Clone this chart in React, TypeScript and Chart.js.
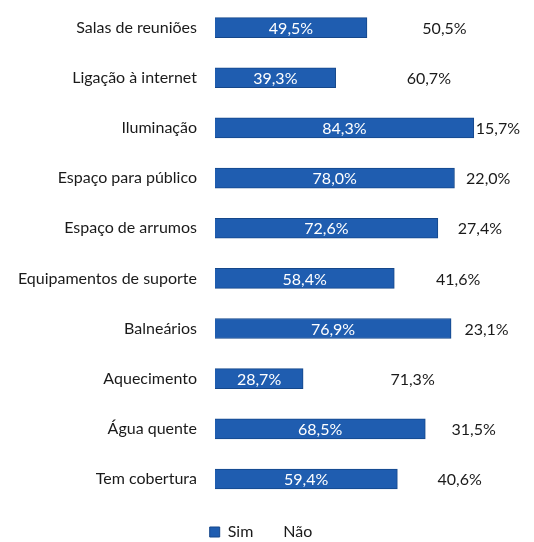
import React, { useEffect, useRef } from "react";
import { Chart, registerables } from "chart.js";

Chart.register(...registerables);

const categories = [
  "Salas de reuniões",
  "Ligação à internet",
  "Iluminação",
  "Espaço para público",
  "Espaço de arrumos",
  "Equipamentos de suporte",
  "Balneários",
  "Aquecimento",
  "Água quente",
  "Tem cobertura",
];
const simValues = [49.5, 39.3, 84.3, 78.0, 72.6, 58.4, 76.9, 28.7, 68.5, 59.4];
const naoValues = [50.5, 60.7, 15.7, 22.0, 27.4, 41.6, 23.1, 71.3, 31.5, 40.6];
const seriesNames = ["Sim", "Não"];

const FONT = "Lato, 'Open Sans', sans-serif";

const fmt = (v: number) => v.toFixed(1).replace(".", ",") + "%";

const labelPlugin = {
  id: "barLabels",
  afterDatasetsDraw(chart: any) {
    const ctx = chart.ctx;
    ctx.save();
    ctx.font = `16px ${FONT}`;
    ctx.textAlign = "center";
    ctx.textBaseline = "middle";
    chart.data.datasets.forEach((ds: any, i: number) => {
      const meta = chart.getDatasetMeta(i);
      ctx.fillStyle = i === 0 ? "#ffffff" : "#1a1a1a";
      meta.data.forEach((bar: any, j: number) => {
        const p = bar.getProps(["x", "y", "base"], true);
        ctx.fillText(fmt(ds.data[j]), (p.x + p.base) / 2, p.y + 1);
      });
    });
    ctx.restore();
  },
};

export default function App() {
  const ref = useRef<HTMLCanvasElement>(null);
  useEffect(() => {
    if (!ref.current) return;
    const chart = new Chart(ref.current, {
      type: "bar",
      data: {
        labels: categories,
        datasets: [
          {
            label: seriesNames[0],
            data: simValues,
            backgroundColor: "#1F5DB0",
            borderColor: "#15478A",
            borderWidth: 1,
            barThickness: 20,
            clip: false as any,
          },
          {
            label: seriesNames[1],
            data: naoValues,
            backgroundColor: "rgba(255,255,255,0)",
            borderWidth: 0,
            barThickness: 20,
            clip: false as any,
          },
        ],
      },
      options: {
        indexAxis: "y",
        responsive: false,
        animation: false,
        layout: { padding: { left: 0, right: 12, top: 21, bottom: -8 } },
        scales: {
          x: { stacked: true, min: 0, max: 100, display: false },
          y: {
            stacked: true,
            offset: false,
            grid: { display: false, drawTicks: false },
            border: { display: false },
            ticks: {
              padding: 18,
              color: "#1a1a1a",
              font: { family: FONT, size: 16 },
            },
            afterFit: (scale: any) => {
              scale.width = 215;
            },
          },
        },
        plugins: {
          tooltip: { enabled: false },
          legend: {
            position: "bottom",
            title: {
              display: true,
              text: "",
              font: { size: 1, lineHeight: 1 },
              padding: { top: 32, bottom: 0 },
            },
            labels: {
              boxWidth: 10,
              boxHeight: 10,
              padding: 12,
              color: "#1a1a1a",
              font: { family: FONT, size: 16 },
            },
          },
        },
      },
      plugins: [labelPlugin],
    });
    return () => chart.destroy();
  }, []);
  return (
    <div style={{ position: "fixed", left: 0, top: 0, width: 534, height: 542, background: "#fff" }}>
      <canvas ref={ref} width={534} height={542} />
    </div>
  );
}
